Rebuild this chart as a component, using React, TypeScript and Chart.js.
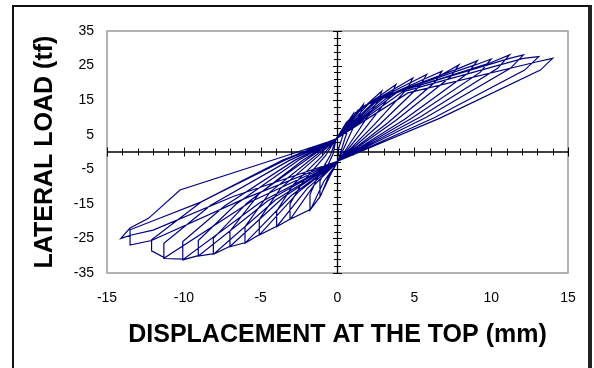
import React, { useEffect, useRef } from 'react';
import { Chart, registerables } from 'chart.js';

Chart.register(...registerables);

// Hysteresis cycles: [displacement (mm), lateral load (tf)]
const cycle01 = [[0, 0], [0.45, 6.2], [1.0, 10.8], [0.93, 9.3], [0.48, 3.9], [0.05, -2.4], [-0.5, -7.0], [-1.14, -12.9], [-1.14, -8.4], [-0.83, -5.7], [-0.29, -0.6], [-0.1, 3.6]];
const cycle02 = [[0.35, 6.7], [1.0, 9.8], [1.68, 13.8], [1.56, 11.9], [0.81, 5.0], [0.05, -2.5], [-0.57, -6.9], [-1.1, -12.7], [-1.79, -16.8], [-1.79, -12.3], [-1.31, -7.4], [-0.45, -0.8], [-0.1, 3.7]];
const cycle03 = [[0.59, 8.6], [1.68, 12.8], [2.88, 17.6], [2.68, 15.1], [1.38, 6.3], [0.05, -2.6], [-0.9, -8.6], [-1.75, -16.6], [-3.09, -19.5], [-3.09, -15.0], [-2.26, -8.6], [-0.77, -1.0], [-0.1, 3.8]];
const cycle04 = [[1.0, 10.9], [2.88, 16.6], [3.8, 19.5], [3.53, 16.8], [1.82, 7.0], [0.05, -2.6], [-1.55, -9.7], [-3.05, -19.3], [-3.96, -21.6], [-3.96, -17.1], [-2.89, -9.5], [-0.99, -1.1], [-0.1, 3.8]];
const cycle05 = [[1.33, 12.1], [3.8, 18.5], [4.9, 21.4], [4.56, 18.4], [2.35, 7.7], [0.05, -2.6], [-1.98, -10.6], [-3.92, -21.4], [-5.09, -24.0], [-5.09, -19.5], [-3.72, -10.6], [-1.27, -1.2], [-0.1, 3.8]];
const cycle06 = [[1.72, 13.3], [4.9, 20.4], [5.8, 22.4], [5.39, 19.3], [2.78, 8.1], [0.05, -2.6], [-2.55, -11.6], [-5.05, -23.8], [-6.02, -26.4], [-6.02, -21.6], [-4.39, -11.6], [-1.5, -1.3], [-0.1, 3.8]];
const cycle07 = [[2.03, 13.9], [5.8, 21.4], [6.8, 23.4], [6.32, 20.1], [3.26, 8.4], [0.05, -2.6], [-3.01, -12.6], [-5.98, -26.2], [-7.0, -27.4], [-7.0, -22.9], [-5.11, -12.1], [-1.75, -1.4], [-0.1, 3.8]];
const cycle08 = [[2.38, 14.5], [6.8, 22.4], [7.9, 25.2], [7.35, 21.7], [3.79, 9.1], [0.05, -2.6], [-3.5, -13.0], [-6.96, -27.2], [-8.08, -29.6], [-8.08, -25.0], [-5.9, -14.8], [-2.26, -2.4], [-0.1, 3.8]];
const cycle09 = [[2.77, 15.6], [7.9, 24.2], [9.1, 26.4], [8.46, 22.7], [4.37, 9.5], [0.05, -2.6], [-4.04, -13.9], [-8.03, -29.4], [-9.06, -30.1], [-9.06, -25.6], [-6.61, -15.1], [-2.54, -2.4], [-0.1, 3.8]];
const cycle10 = [[3.19, 16.4], [9.1, 25.4], [10.0, 26.9], [9.3, 23.1], [4.8, 9.7], [0.05, -2.6], [-4.53, -14.1], [-9.01, -29.9], [-10.07, -31.2], [-10.07, -25.9], [-7.35, -15.6], [-2.82, -2.5], [-0.1, 3.8]];
const cycle11 = [[3.5, 16.7], [10.0, 25.9], [11.2, 28.1], [10.42, 24.2], [5.38, 10.1], [0.05, -2.6], [-5.04, -14.6], [-10.02, -31.0], [-11.3, -30.8], [-11.3, -26.4], [-8.25, -15.4], [-3.16, -2.5], [-0.1, 3.8]];
const cycle12 = [[3.92, 17.4], [11.2, 27.1], [12.1, 28.1], [11.25, 24.2], [5.81, 10.1], [0.05, -2.6], [-5.65, -14.4], [-11.25, -30.6], [-12.1, -28.6], [-12.1, -25.4], [-8.83, -14.3], [-3.39, -2.3], [-0.1, 3.8]];
const cycle13 = [[4.24, 17.4], [12.1, 27.1], [13.1, 27.6], [12.18, 23.7], [6.29, 9.9], [0.05, -2.6], [-6.05, -13.5], [-12.1, -25.6], [-13.5, -26.9], [-13.5, -22.5], [-11.5, -19.0], [-8.9, -14.5], [-3.6, -2.4], [-0.1, 3.8]];
const cycle14 = [[4.59, 17.1], [13.0, 26.1], [14.0, 27.1], [13.2, 23.7], [6.67, 9.8], [0.05, -2.6], [-6.75, -12.8], [-12.0, -22.6], [-13.4, -24.0], [-14.1, -25.0], [-13.5, -22.0], [-12.3, -19.2], [-10.25, -11.0], [-3.5, -1.3], [0.0, 3.8]];

const cycles = [cycle01, cycle02, cycle03, cycle04, cycle05, cycle06, cycle07, cycle08, cycle09, cycle10, cycle11, cycle12, cycle13, cycle14];

const xTickValues = [-15, -10, -5, 0, 5, 10, 15];
const yTickValues = [-35, -25, -15, -5, 5, 15, 25, 35];

const xTitle = 'DISPLACEMENT AT THE TOP (mm)';
const yTitle = 'LATERAL LOAD (tf)';

const FAMILY = '"Liberation Sans", Arial, Helvetica, sans-serif';

const axesPlugin = {
  id: 'crossAxes',
  beforeDatasetsDraw(chart: any) {
    const { ctx, chartArea: a, scales } = chart;
    const xs = scales.x;
    const ys = scales.y;
    ctx.save();
    ctx.strokeStyle = '#9a9a9a';
    ctx.lineWidth = 1.5;
    ctx.strokeRect(a.left, a.top, a.right - a.left, a.bottom - a.top);
    const x0 = xs.getPixelForValue(0);
    const y0 = ys.getPixelForValue(0);
    ctx.strokeStyle = '#000';
    ctx.lineWidth = 1.3;
    ctx.beginPath();
    ctx.moveTo(a.left, y0);
    ctx.lineTo(a.right, y0);
    ctx.moveTo(x0, a.top);
    ctx.lineTo(x0, a.bottom);
    ctx.stroke();
    ctx.lineWidth = 1;
    ctx.beginPath();
    for (let v = xs.min; v <= xs.max; v += 1) {
      const px = Math.round(xs.getPixelForValue(v)) + 0.5;
      const len = v % 5 === 0 ? 4.5 : 3.5;
      ctx.moveTo(px, y0 - len);
      ctx.lineTo(px, y0 + len);
    }
    for (let v = ys.min; v <= ys.max; v += 2) {
      const py = Math.round(ys.getPixelForValue(v)) + 0.5;
      const len = (v + 35) % 10 === 0 ? 4.5 : 3.5;
      ctx.moveTo(x0 - len, py);
      ctx.lineTo(x0 + len, py);
    }
    ctx.stroke();
    ctx.restore();
  },
};

export default function App() {
  const ref = useRef<HTMLCanvasElement>(null);

  useEffect(() => {
    const points = cycles.flat().map(([x, y]) => ({ x, y }));
    const tickFont = { family: FAMILY, size: 14 };
    const titleFont = { family: FAMILY, size: 25, weight: 'bold' as const };
    const chart = new Chart(ref.current!, {
      type: 'scatter',
      data: {
        datasets: [
          {
            data: points,
            showLine: true,
            borderColor: '#000080',
            borderWidth: 1.2,
            pointRadius: 0,
            pointHoverRadius: 0,
            tension: 0,
            fill: false,
          },
        ],
      },
      options: {
        responsive: false,
        maintainAspectRatio: false,
        animation: false,
        layout: { padding: { left: 0, right: 26, top: 31, bottom: 0 } },
        plugins: { legend: { display: false }, tooltip: { enabled: false } },
        scales: {
          x: {
            type: 'linear',
            min: -15,
            max: 15,
            afterBuildTicks: (s: any) => {
              s.ticks = xTickValues.map((v) => ({ value: v }));
            },
            afterFit: (s: any) => {
              s.height = 95;
            },
            grid: { display: false, drawTicks: false },
            border: { display: false },
            ticks: { padding: 17, font: tickFont, color: '#000', maxRotation: 0, autoSkip: false },
            title: { display: true, text: xTitle, font: titleFont, color: '#000', padding: { top: 0, bottom: 18 } },
          },
          y: {
            type: 'linear',
            min: -35,
            max: 35,
            afterBuildTicks: (s: any) => {
              s.ticks = yTickValues.map((v) => ({ value: v }));
            },
            afterFit: (s: any) => {
              s.width = 107;
            },
            grid: { display: false, drawTicks: false },
            border: { display: false },
            ticks: { padding: 13, font: tickFont, color: '#000', autoSkip: false },
            title: { display: true, text: yTitle, font: titleFont, color: '#000', padding: { top: 30, bottom: 0 } },
          },
        },
      },
      plugins: [axesPlugin],
    });
    return () => chart.destroy();
  }, []);

  return (
    <div style={{ position: 'absolute', left: 0, top: 0, width: 594, height: 368, overflow: 'hidden', background: '#fff' }}>
      <div
        style={{
          position: 'absolute',
          left: 12,
          top: 5,
          width: 574,
          height: 420,
          borderLeft: '2px solid #111',
          borderTop: '2px solid #111',
          borderRight: '4px solid #222',
        }}
      />
      <canvas ref={ref} width={594} height={368} style={{ position: 'absolute', left: 0, top: 0 }} />
    </div>
  );
}
